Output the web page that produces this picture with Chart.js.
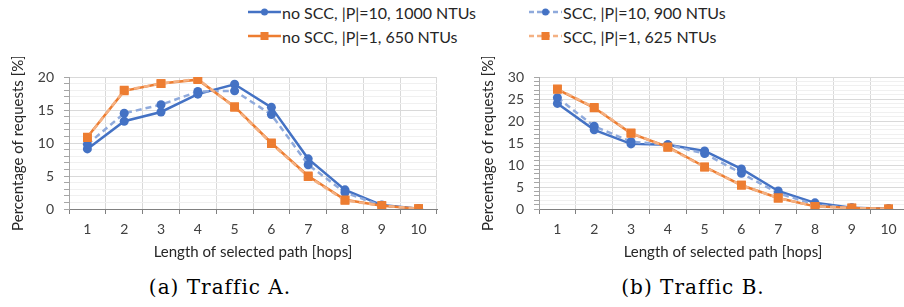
<!DOCTYPE html>
<html>
<head>
<meta charset="utf-8">
<script src="https://cdn.jsdelivr.net/npm/chart.js@4"></script>
<style>
  html, body { margin: 0; padding: 0; background: #fff; width: 904px; height: 307px; overflow: hidden; }
  body { position: relative; font-family: Lato, 'Open Sans', sans-serif; }
  .chartBox { position: absolute; top: 57px; width: 445px; height: 208px; }
  .legendItem { position: absolute; height: 20px; display: flex; align-items: center; font-size: 16px; color: #262626; white-space: nowrap; }
  .legendItem svg { margin-right: 1px; }
  .caption { position: absolute; top: 274px; font-family: 'DejaVu Serif', serif; font-size: 20px; letter-spacing: 1px; line-height: 26px; color: #000; transform: translateX(-50%); white-space: nowrap; }
</style>
</head>
<body>

<div class="legendItem" style="left:248px; top:2px;">
  <svg width="33" height="12"><line x1="0" y1="6" x2="33" y2="6" stroke="#4472C4" stroke-width="2.5"/><circle cx="16.5" cy="6" r="3.5" fill="#4472C4"/></svg>no SCC, |P|=10, 1000 NTUs
</div>
<div class="legendItem" style="left:529px; top:2px;">
  <svg width="33" height="12"><line x1="0" y1="6" x2="33" y2="6" stroke="#8FAADC" stroke-width="2.5" stroke-dasharray="5,3"/><circle cx="16.5" cy="6" r="3.5" fill="#4472C4"/></svg>SCC, |P|=10, 900 NTUs
</div>
<div class="legendItem" style="left:248px; top:26px;">
  <svg width="33" height="12"><line x1="0" y1="6" x2="33" y2="6" stroke="#ED7D31" stroke-width="2.5"/><rect x="12.5" y="2" width="8" height="8" fill="#ED7D31"/></svg>no SCC, |P|=1, 650 NTUs
</div>
<div class="legendItem" style="left:529px; top:26px;">
  <svg width="33" height="12"><line x1="0" y1="6" x2="33" y2="6" stroke="#F4B183" stroke-width="2.5" stroke-dasharray="5,3"/><rect x="12.5" y="2" width="8" height="8" fill="#ED7D31"/></svg>SCC, |P|=1, 625 NTUs
</div>

<div class="chartBox" style="left:0px;"><canvas id="chartA"></canvas></div>
<div class="chartBox" style="left:470px;"><canvas id="chartB"></canvas></div>

<div class="caption" style="left:220px;">(a) Traffic A.</div>
<div class="caption" style="left:693px;">(b) Traffic B.</div>

<script>
// Data
const hops = ['1', '2', '3', '4', '5', '6', '7', '8', '9', '10'];

// Traffic A
const noSccP10A = [9.1, 13.3, 14.7, 17.4, 18.9, 15.4, 7.6, 2.9, 0.6, 0.05];
const sccP10A   = [9.8, 14.5, 15.8, 17.8, 17.9, 14.3, 6.7, 2.5, 0.5, 0.05];
const noSccP1A  = [10.9, 17.9, 19.0, 19.6, 15.5, 10.0, 5.0, 1.4, 0.5, 0.05];
const sccP1A    = [10.8, 18.0, 19.0, 19.7, 15.4, 9.9, 4.9, 1.3, 0.5, 0.05];

// Traffic B
const noSccP10B = [24.0, 18.0, 14.8, 14.6, 13.2, 9.1, 4.1, 1.4, 0.3, 0.05];
const sccP10B   = [25.3, 18.8, 15.3, 14.6, 12.6, 8.1, 3.6, 1.0, 0.25, 0.05];
const noSccP1B  = [27.2, 23.0, 17.2, 14.1, 9.6, 5.4, 2.5, 0.6, 0.25, 0.05];
const sccP1B    = [27.3, 23.1, 17.3, 14.0, 9.5, 5.4, 2.5, 0.6, 0.2, 0.05];

const labels = ['no SCC, |P|=10, 1000 NTUs', 'SCC, |P|=10, 900 NTUs', 'no SCC, |P|=1, 650 NTUs', 'SCC, |P|=1, 625 NTUs'];
const xTitle = 'Length of selected path [hops]';
const yTitle = 'Percentage of requests [%]';

const blue = '#4472C4', lightBlue = '#8FAADC', orange = '#ED7D31', lightOrange = '#F4B183';
const font = { family: 'Lato', size: 14 };
const titleFont = { family: 'Lato', size: 15 };

function makeDatasets(a, b, c, d) {
    return [
        { label: labels[0], data: a, borderColor: blue, backgroundColor: blue, borderWidth: 2.5,
          pointStyle: 'circle', pointRadius: 4.5, pointBorderWidth: 0, order: 4 },
        { label: labels[1], data: b, borderColor: lightBlue, backgroundColor: blue, borderWidth: 2.5, borderDash: [6, 4],
          pointStyle: 'circle', pointRadius: 4.5, pointBorderWidth: 0, order: 3 },
        { label: labels[2], data: c, borderColor: orange, backgroundColor: orange, borderWidth: 2.5,
          pointStyle: 'rect', pointRadius: 6.2, pointBorderWidth: 0, order: 2 },
        { label: labels[3], data: d, borderColor: lightOrange, backgroundColor: orange, borderWidth: 2.5, borderDash: [6, 4],
          pointStyle: 'rect', pointRadius: 6.2, pointBorderWidth: 0, order: 1 }
    ];
}

function makeChart(id, maxY, datasets) {
    return new Chart(document.getElementById(id).getContext('2d'), {
        type: 'line',
        data: { labels: hops, datasets: datasets },
        options: {
            responsive: true,
            maintainAspectRatio: false,
            animation: false,
            layout: { padding: { top: 20, right: 8, left: 0, bottom: 0 } },
            plugins: { legend: { display: false }, tooltip: { enabled: false } },
            elements: { line: { tension: 0 } },
            scales: {
                x: {
                    offset: true,
                    grid: { offset: true, color: '#d9d9d9', tickColor: '#808080', tickLength: 5 },
                    border: { color: '#808080', width: 1 },
                    ticks: { font: font, color: '#404040', padding: 7, maxRotation: 0 },
                    title: { display: true, text: xTitle, font: titleFont, color: '#262626', padding: { top: 2, bottom: 4 } },
                    afterFit: s => { s.height = 56; }
                },
                y: {
                    min: 0, max: maxY,
                    grid: {
                        color: c => (c.tick && c.tick.value % 5 === 0) ? '#d9d9d9' : '#f0f0f0',
                        tickColor: '#a6a6a6', tickLength: 5
                    },
                    border: { color: '#a6a6a6', width: 1 },
                    ticks: {
                        stepSize: 1, autoSkip: false, font: font, color: '#404040', padding: 10,
                        callback: v => (v % 5 === 0 ? v : '')
                    },
                    title: { display: true, text: yTitle, font: titleFont, color: '#262626', padding: { top: 9, bottom: 4 } },
                    afterFit: s => { s.width = 69; }
                }
            }
        }
    });
}

makeChart('chartA', 20, makeDatasets(noSccP10A, sccP10A, noSccP1A, sccP1A));
makeChart('chartB', 30, makeDatasets(noSccP10B, sccP10B, noSccP1B, sccP1B));
</script>
</body>
</html>
